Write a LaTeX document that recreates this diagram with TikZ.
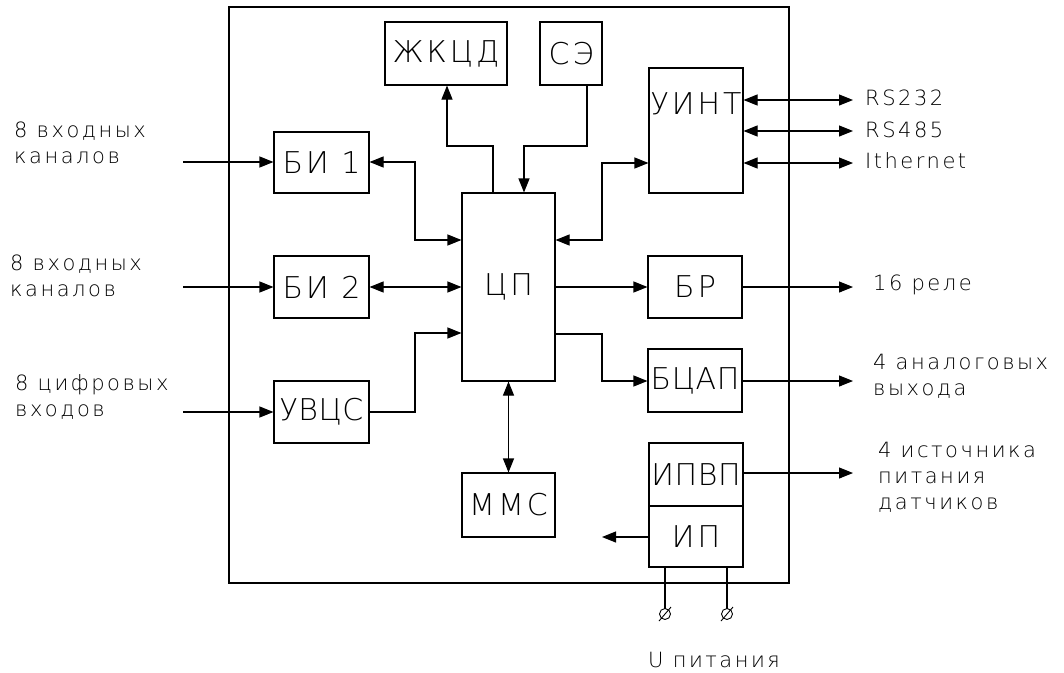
\documentclass[tikz,border=0pt]{standalone}
\usepackage{fontspec}
\usetikzlibrary{arrows.meta}
\IfFontExistsTF{DejaVu Sans ExtraLight}
  {\newfontfamily\cadfont[LetterSpace=10]{DejaVu Sans ExtraLight}
   \newfontfamily\cadnfont[LetterSpace=2]{DejaVu Sans ExtraLight}
   \newfontfamily\cadlfont[LetterSpace=12]{DejaVu Sans ExtraLight}}
  {\newfontfamily\cadfont[LetterSpace=10]{DejaVu Sans}
   \newfontfamily\cadnfont[LetterSpace=2]{DejaVu Sans}
   \newfontfamily\cadlfont[LetterSpace=12]{DejaVu Sans}}
\newcommand\boxfont{\cadfont\fontsize{30}{30}\selectfont}
\newcommand\boxnfont{\cadnfont\fontsize{30}{30}\selectfont}
\newcommand\lblfont{\cadlfont\fontsize{21}{26}\selectfont}
\tikzset{
  blk/.style={draw, line width=1.1pt, inner sep=0pt, font=\boxfont},
  nblk/.style={blk, font=\boxnfont},
  wire/.style={line width=1.1pt},
  arr/.style={wire, -{Triangle[length=14pt,width=11pt]}},
  darr/.style={wire, {Triangle[length=14pt,width=11pt]}-{Triangle[length=14pt,width=11pt]}},
  lbl/.style={font=\lblfont, inner sep=0pt, anchor=base west, align=left}
}
\begin{document}
\begin{tikzpicture}[x=1pt,y=-1pt]
\useasboundingbox (0,0) rectangle (1064,672);
\fill[white] (0,0) rectangle (1064,672);
% frame
\node[draw, line width=1.1pt, inner sep=0pt, minimum width=560pt, minimum height=576pt] (frame) at (509,295) {};
% blocks
\node[blk, minimum width=122pt, minimum height=63pt] (zhkcd) at (446,53.5) {ЖКЦД};
\node[blk, minimum width=62pt, minimum height=63pt] (se) at (571,53.5) {СЭ};
\node[blk, minimum width=94pt, minimum height=125pt] (uint) at (696,130.5) {};
\node[font=\boxfont, inner sep=0pt] (uintt) at (696,104) {УИНТ};
\node[blk, minimum width=95pt, minimum height=61pt] (bi1) at (321.5,162.5) {БИ 1};
\node[blk, minimum width=95pt, minimum height=62pt] (bi2) at (321.5,287) {БИ 2};
\node[nblk, minimum width=95pt, minimum height=62pt] (uvcs) at (321.5,412) {УВЦС};
\node[blk, minimum width=93pt, minimum height=188pt] (cp) at (508.5,287) {ЦП};
\node[blk, minimum width=94pt, minimum height=62pt] (br) at (695,287) {БР};
\node[nblk, minimum width=94pt, minimum height=63pt] (bcap) at (695,380.5) {БЦАП};
\node[nblk, minimum width=94pt, minimum height=63pt] (ipvp) at (696,474.5) {ИПВП};
\node[blk, minimum width=94pt, minimum height=61pt] (ip) at (696,536.5) {ИП};
\node[blk, minimum width=93pt, minimum height=64pt] (mms) at (508.5,505) {ММС};
% labels (base = baseline of last line)
\node[lbl] (l1) at (14,163) {8 входных\\каналов};
\node[lbl] (l2) at (10,296) {8 входных\\каналов};
\node[lbl] (l3) at (15,416) {8 цифровых\\входов};
\node[lbl] (lrs1) at (865,105) {RS232};
\node[lbl] (lrs2) at (865,137) {RS485};
\node[lbl] (leth) at (865,168) {Ithernet};
\node[lbl] (lrel) at (873,290) {16 реле};
\node[lbl] (lan) at (873,395) {4 аналоговых\\выхода};
\node[lbl] (lis) at (878,509) {4 источника\\питания\\датчиков};
\node[lbl] (lu) at (648,667) {U питания};
% free ends
\coordinate (i1) at (183,162);
\coordinate (i2) at (183,287);
\coordinate (i3) at (183,412);
\coordinate (o1) at (853,100);
\coordinate (o2) at (853,131);
\coordinate (o3) at (853,163);
\coordinate (o4) at (853,287);
\coordinate (o5) at (853,381);
\coordinate (o6) at (853,473);
\coordinate (o7) at (602,537);
\coordinate (t1) at (665,614);
\coordinate (t2) at (727,614);
% inputs
\draw[arr] (i1) -- (bi1.west |- i1);
\draw[arr] (i2) -- (bi2.west |- i2);
\draw[arr] (i3) -- (uvcs.west |- i3);
% left block links
\draw[darr] (bi1.east |- i1) -| (415,240) -- (cp.west |- 0,240);
\draw[darr] (bi2) -- (cp);
\draw[arr] (uvcs.east |- i3) -| (415,333) -- (cp.west |- 0,333);
% top links
\draw[arr] (cp.north -| 493,0) |- (447,146) -- (zhkcd.south -| 447,0);
\draw[arr] (se.south -| 587,0) |- (524,146) -- (cp.north -| 524,0);
% right links
\draw[darr] (uint.west |- o3) -| (602,240) -- (cp.east |- 0,240);
\draw[arr] (cp) -- (br);
\draw[arr] (cp.east |- 0,334) -| (602,381) -- (bcap.west |- 0,381);
\draw[darr] (cp) -- (mms);
% outputs
\draw[darr] (uint.east |- o1) -- (o1);
\draw[darr] (uint.east |- o2) -- (o2);
\draw[darr] (uint.east |- o3) -- (o3);
\draw[arr] (br.east |- o4) -- (o4);
\draw[arr] (bcap.east |- o5) -- (o5);
\draw[arr] (ipvp.east |- o6) -- (o6);
\draw[arr] (ip.west |- o7) -- (o7);
% power terminals
\draw[wire] (ip.south -| t1) -- ([yshift=5.5pt]t1);
\draw[wire] (ip.south -| t2) -- ([yshift=5.5pt]t2);
\foreach \t in {t1,t2}{
  \draw[line width=0.9pt] (\t) circle (5.5pt);
  \draw[line width=0.9pt] ([shift={(-6,7)}]\t) -- ([shift={(6,-7)}]\t);
}
\end{tikzpicture}
\end{document}
